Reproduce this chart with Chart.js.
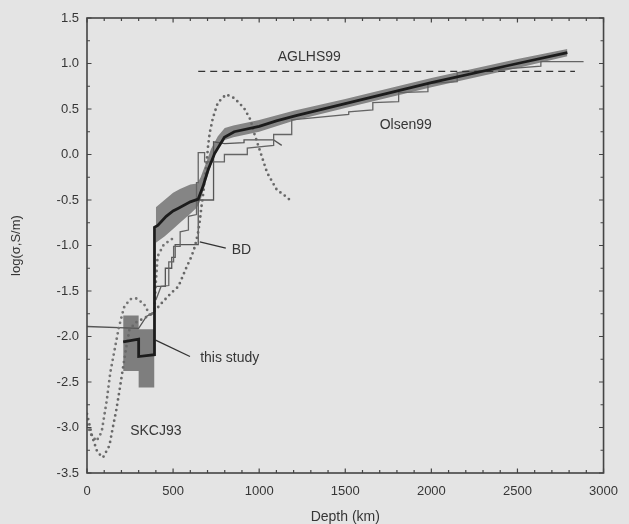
<!DOCTYPE html>
<html><head><meta charset="utf-8">
<script src="https://cdn.jsdelivr.net/npm/chart.js@4/dist/chart.umd.min.js"></script>
<style>html,body{margin:0;padding:0;background:#e4e4e4;}canvas{display:block}</style>
</head><body>
<canvas id="c" width="629" height="524"></canvas>
<script>
// ---- data (depth km, log conductivity) ----
const xTicks = [0, 500, 1000, 1500, 2000, 2500, 3000];
const yTicks = [-3.5, -3.0, -2.5, -2.0, -1.5, -1.0, -0.5, 0.0, 0.5, 1.0, 1.5];

const thisStudy = [[210,-2.06],[300,-2.03],[300,-2.22],[392,-2.20],[392,-0.80],[411,-0.78],[460,-0.68],[500,-0.62],[531,-0.59],[600,-0.52],[646,-0.49],[674,-0.35],[703,-0.17],[741,0.01],[798,0.19],[855,0.25],[1000,0.31],[1100,0.37],[1220,0.43],[1500,0.56],[2000,0.79],[2500,1.00],[2790,1.12]];

const bandLowTop    = [[210,-1.77],[300,-1.77],[300,-1.92],[392,-1.92]];
const bandLowBottom = [[210,-2.38],[300,-2.38],[300,-2.56],[392,-2.56]];
const bandUpTop    = [[400,-0.58],[450,-0.50],[500,-0.42],[540,-0.38],[600,-0.33],[640,-0.32],[660,-0.25],[690,-0.10],[720,0.06],[760,0.20],[800,0.29],[850,0.32],[1000,0.38],[1200,0.48],[1500,0.61],[2000,0.84],[2500,1.05],[2790,1.16]];
const bandUpBottom = [[400,-0.97],[450,-0.90],[500,-0.82],[540,-0.75],[600,-0.65],[640,-0.58],[660,-0.50],[690,-0.30],[720,-0.12],[760,0.07],[800,0.16],[850,0.19],[1000,0.25],[1200,0.37],[1500,0.51],[2000,0.74],[2500,0.95],[2790,1.08]];

const olsen99 = [[400,-1.60],[430,-1.45],[475,-1.44],[475,-1.18],[503,-1.18],[503,-1.01],[541,-1.01],[541,-0.85],[589,-0.83],[589,-0.68],[636,-0.66],[636,-0.31],[646,-0.31],[646,0.02],[683,0.02],[683,-0.08],[798,-0.08],[798,0.00],[931,0.00],[931,0.07],[1084,0.10],[1084,0.22],[1189,0.22],[1189,0.38],[1520,0.44],[1520,0.47],[1660,0.49],[1660,0.57],[1810,0.58],[1810,0.68],[1980,0.69],[1980,0.78],[2150,0.80],[2150,0.90],[2636,0.97],[2636,1.02],[2884,1.02]];

const bd = [[0,-1.89],[300,-1.91],[345,-1.78],[392,-1.73],[392,-1.45],[455,-1.45],[455,-1.25],[492,-1.25],[492,-1.13],[512,-1.13],[512,-0.99],[646,-0.99],[646,-0.50],[735,-0.50],[735,0.14],[800,0.12],[912,0.13],[912,0.16],[1084,0.16],[1131,0.10]];

const skcj93a = [[0,-2.85],[30,-3.10],[60,-3.27],[93,-3.33],[130,-3.20],[150,-3.00],[170,-2.81],[189,-2.59],[207,-2.37],[228,-2.12],[246,-1.93],[280,-1.85],[330,-1.80],[380,-1.75],[430,-1.64],[490,-1.52],[531,-1.45],[580,-1.23],[607,-1.12],[627,-1.01],[646,-0.85],[656,-0.72],[665,-0.57],[675,-0.43],[683,-0.28],[693,-0.13],[703,0.09],[713,0.24],[731,0.40],[760,0.57],[808,0.66],[855,0.62],[912,0.51],[950,0.38],[970,0.24],[1008,0.02],[1046,-0.20],[1103,-0.39],[1141,-0.44],[1179,-0.50]];

const skcj93b = [[0,-2.97],[25,-3.08],[55,-3.15],[85,-3.05],[115,-2.70],[135,-2.40],[160,-2.15],[185,-1.90],[215,-1.68],[250,-1.59],[284,-1.58],[330,-1.64],[370,-1.78],[392,-1.70],[400,-1.40],[410,-1.12],[446,-0.99],[500,-0.92]];

const aglhs99 = [[646,0.914],[2834,0.914]];
const pointerStudy = [[398,-2.04],[598,-2.22]];
const pointerBD = [[655,-0.96],[806,-1.03]];

const noteText = ["AGLHS99", "Olsen99", "BD", "this study", "SKCJ93"];
const noteX    = [1291, 1851, 897, 829, 400];
const noteY    = [1.065, 0.327, -1.05, -2.24, -3.04];

// ---- build ----
const pts = a => a.map(p => ({x: p[0], y: p[1]}));
const FONT = "'Liberation Sans', Arial, sans-serif";
const TXT = '#363636';

const base = {showLine: true, pointRadius: 0, pointHoverRadius: 0, tension: 0, fill: false};
const datasets = [
  Object.assign({}, base, {label:'bandLowTop', data: pts(bandLowTop), borderWidth: 0, borderColor:'rgba(0,0,0,0)', backgroundColor:'#7e7e7e', fill:'+1', order: 10}),
  Object.assign({}, base, {label:'bandLowBottom', data: pts(bandLowBottom), borderWidth: 0, borderColor:'rgba(0,0,0,0)', order: 10}),
  Object.assign({}, base, {label:'bandUpTop', data: pts(bandUpTop), borderWidth: 0, borderColor:'rgba(0,0,0,0)', backgroundColor:'#858585', fill:'+1', order: 10}),
  Object.assign({}, base, {label:'bandUpBottom', data: pts(bandUpBottom), borderWidth: 0, borderColor:'rgba(0,0,0,0)', order: 10}),
  Object.assign({}, base, {label:'Olsen99', data: pts(olsen99), borderWidth: 1.3, borderColor:'#646464', order: 5}),
  Object.assign({}, base, {label:'BD', data: pts(bd), borderWidth: 1.3, borderColor:'#555', order: 5}),
  Object.assign({}, base, {label:'SKCJ93a', data: pts(skcj93a), borderWidth: 2.8, borderColor:'#686868', borderDash:[0,5.4], borderCapStyle:'round', order: 4}),
  Object.assign({}, base, {label:'SKCJ93b', data: pts(skcj93b), borderWidth: 2.8, borderColor:'#747474', borderDash:[0,5.4], borderCapStyle:'round', order: 4}),
  Object.assign({}, base, {label:'AGLHS99', data: pts(aglhs99), borderWidth: 1.3, borderColor:'#333', borderDash:[7,5], order: 3}),
  Object.assign({}, base, {label:'this study', data: pts(thisStudy), borderWidth: 2.8, borderColor:'#1c1c1c', order: 1}),
  Object.assign({}, base, {label:'pStudy', data: pts(pointerStudy), borderWidth: 1.3, borderColor:'#333', order: 2}),
  Object.assign({}, base, {label:'pBD', data: pts(pointerBD), borderWidth: 1.3, borderColor:'#333', order: 2})
];

const bgPlugin = {
  id: 'bg',
  beforeDraw(chart) {
    const c = chart.ctx;
    c.save(); c.fillStyle = '#e4e4e4'; c.fillRect(0, 0, chart.width, chart.height); c.restore();
  }
};

const framePlugin = {
  id: 'frame',
  afterDatasetsDraw(chart) {
    const c = chart.ctx, a = chart.chartArea, xs = chart.scales.x, ys = chart.scales.y;
    c.save();
    c.strokeStyle = '#444'; c.lineWidth = 1.6;
    c.strokeRect(a.left, a.top, a.right - a.left, a.bottom - a.top);
    c.lineWidth = 1.2;
    c.beginPath();
    for (let d = 0; d <= 3000; d += 100) {
      const px = xs.getPixelForValue(d);
      const L = (d % 500 === 0) ? 4.5 : 3;
      c.moveTo(px, a.bottom); c.lineTo(px, a.bottom - L);
      c.moveTo(px, a.top); c.lineTo(px, a.top + L);
    }
    for (let k = 0; k <= 20; k++) {
      const v = -3.5 + k * 0.25;
      const py = ys.getPixelForValue(v);
      const L = (k % 2 === 0) ? 4.5 : 3;
      c.moveTo(a.left, py); c.lineTo(a.left + L, py);
      c.moveTo(a.right, py); c.lineTo(a.right - L, py);
    }
    c.stroke();
    // annotation labels
    c.fillStyle = TXT;
    c.font = '14px ' + FONT;
    c.textAlign = 'center'; c.textBaseline = 'middle';
    for (let i = 0; i < noteText.length; i++) {
      c.fillText(noteText[i], xs.getPixelForValue(noteX[i]), ys.getPixelForValue(noteY[i]));
    }
    c.restore();
  }
};

new Chart(document.getElementById('c'), {
  type: 'scatter',
  data: {datasets},
  options: {
    responsive: false, animation: false, devicePixelRatio: 1,
    layout: {padding: {top: 18, right: 17, left: 0, bottom: 0}},
    plugins: {legend: {display: false}, tooltip: {enabled: false}},
    scales: {
      x: {
        type: 'linear', min: 0, max: 3000,
        afterBuildTicks: s => { s.ticks = xTicks.map(v => ({value: v})); },
        afterFit: s => { s.height = 51; },
        grid: {display: false, drawTicks: false},
        border: {display: false},
        ticks: {color: TXT, font: {family: FONT, size: 13}, padding: 11, maxRotation: 0, callback: v => String(v)},
        title: {display: true, text: 'Depth (km)', color: TXT, font: {family: FONT, size: 14, lineHeight: 1.0}, padding: {top: 0, bottom: 0}}
      },
      y: {
        type: 'linear', min: -3.5, max: 1.5,
        afterBuildTicks: s => { s.ticks = yTicks.map(v => ({value: v})); },
        afterFit: s => { s.width = 87; },
        grid: {display: false, drawTicks: false},
        border: {display: false},
        ticks: {color: TXT, font: {family: FONT, size: 13}, padding: 8, callback: v => Number(v).toFixed(1)},
        title: {display: true, text: 'log(σ,S/m)', color: TXT, font: {family: FONT, size: 13}, padding: {top: 9, bottom: 0}}
      }
    }
  },
  plugins: [bgPlugin, framePlugin]
});
</script>
</body></html>
